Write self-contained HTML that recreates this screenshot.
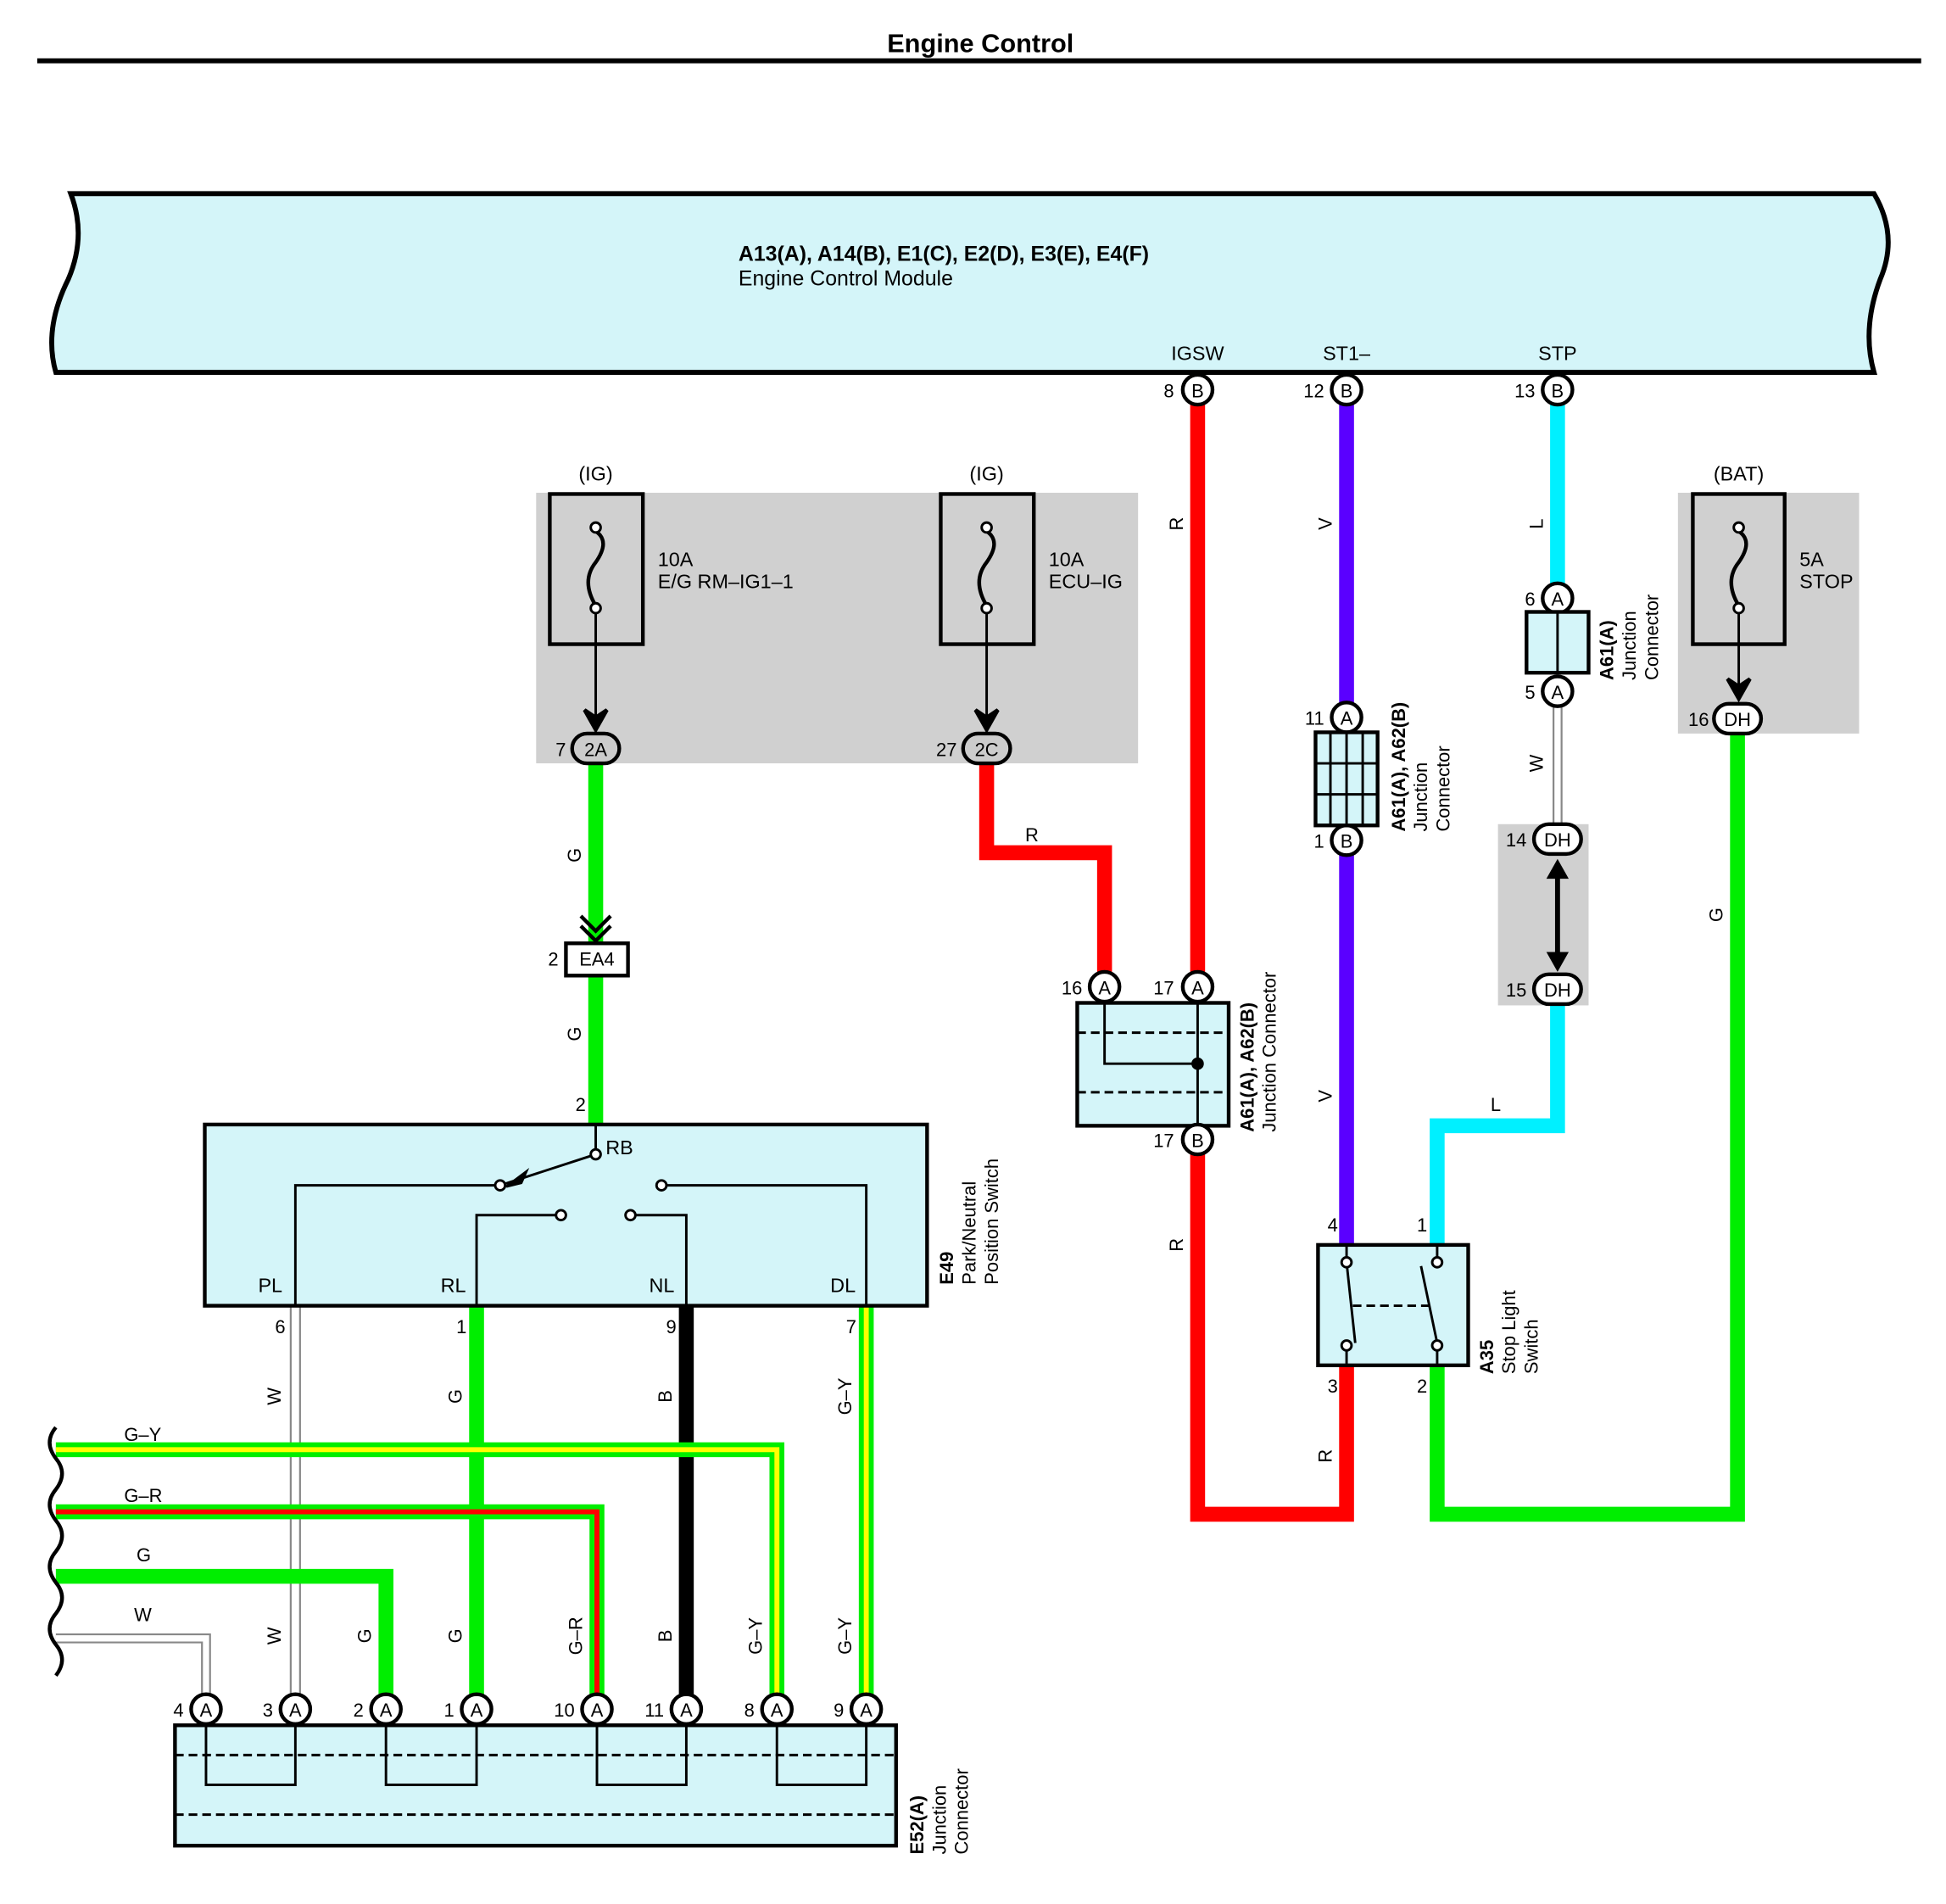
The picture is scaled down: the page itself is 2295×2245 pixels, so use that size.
<!DOCTYPE html>
<html><head><meta charset="utf-8"><style>
html,body{margin:0;padding:0;background:#fff}
svg{display:block}
text{font-family:"Liberation Sans",sans-serif;fill:#000}
</style></head><body>
<svg width="2295" height="2245" viewBox="0 0 1568 1534" preserveAspectRatio="none" xmlns="http://www.w3.org/2000/svg">
<rect width="1568" height="1534" fill="#fff"/>
<text x="790" y="42" font-size="21" font-weight="bold" text-anchor="middle">Engine Control</text>
<rect x="30" y="47" width="1518" height="4" fill="#000"/>

<path d="M57,156 L1510,156 Q1530,190 1515,225 Q1500,265 1510,300 L45,300 Q35,265 55,225 Q70,190 57,156 Z" fill="#d4f5f9" stroke="#000" stroke-width="4"/>
<text x="595" y="210" font-size="17" font-weight="bold">A13(A), A14(B), E1(C), E2(D), E3(E), E4(F)</text>
<text x="595" y="230" font-size="17">Engine Control Module</text>
<text x="965" y="290" font-size="16" text-anchor="middle">IGSW</text>
<text x="1085" y="290" font-size="16" text-anchor="middle">ST1–</text>
<text x="1255" y="290" font-size="16" text-anchor="middle">STP</text>

<rect x="432" y="397" width="485" height="218" fill="#d0d0d0"/>
<rect x="1352" y="397" width="146" height="194" fill="#d0d0d0"/>
<rect x="1207" y="664" width="73" height="146" fill="#d0d0d0"/>

<g fill="none" stroke-linejoin="miter">
<polyline points="965,314 965,1220 1085,1220 1085,1100" stroke="#ff0000" stroke-width="12"/>
<polyline points="1085,314 1085,578" stroke="#5a00ff" stroke-width="12"/>
<polyline points="1085,677 1085,1003" stroke="#5a00ff" stroke-width="12"/>
<polyline points="1255,314 1255,482" stroke="#00f0ff" stroke-width="12"/>
<polyline points="1255,797 1255,907 1158,907 1158,1003" stroke="#00f0ff" stroke-width="12"/>
<polyline points="1255,557 1255,665" stroke="#888" stroke-width="8"/>
<polyline points="1255,557 1255,665" stroke="#fff" stroke-width="5"/>
<polyline points="1400,580 1400,1220 1158,1220 1158,1100" stroke="#00ee00" stroke-width="12"/>
<polyline points="480,603 480,905" stroke="#00ee00" stroke-width="12"/>
<polyline points="795,603 795,687 890,687 890,795" stroke="#ff0000" stroke-width="12"/>
<polyline points="238,1052 238,1377" stroke="#888" stroke-width="9"/>
<polyline points="238,1052 238,1377" stroke="#fff" stroke-width="6"/>
<polyline points="384,1052 384,1377" stroke="#00ee00" stroke-width="12"/>
<polyline points="553,1052 553,1377" stroke="#000" stroke-width="12"/>
<polyline points="698,1052 698,1377" stroke="#00ee00" stroke-width="12"/>
<polyline points="698,1052 698,1377" stroke="#ffff00" stroke-width="4"/>
<polyline points="45,1168 626,1168 626,1377" stroke="#00ee00" stroke-width="12"/>
<polyline points="45,1168 626,1168 626,1377" stroke="#ffff00" stroke-width="4"/>
<polyline points="45,1218 481,1218 481,1377" stroke="#00ee00" stroke-width="12"/>
<polyline points="45,1218 481,1218 481,1377" stroke="#ff0000" stroke-width="4"/>
<polyline points="45,1270 311,1270 311,1377" stroke="#00ee00" stroke-width="12"/>
<polyline points="45,1320 166,1320 166,1377" stroke="#888" stroke-width="8"/>
<polyline points="45,1320 166,1320 166,1377" stroke="#fff" stroke-width="5"/>
<path d="M45,1150 q-10,12 0,25 q10,12 0,25 q-10,12 0,25 q10,12 0,25 q-10,12 0,25 q10,12 0,25 q-10,12 0,25 q10,12 0,25" stroke="#000" stroke-width="3"/>
</g>

<g font-size="15">
<text transform="translate(953,422) rotate(-90)" text-anchor="middle">R</text>
<text transform="translate(953,1003) rotate(-90)" text-anchor="middle">R</text>
<text transform="translate(1073,1173) rotate(-90)" text-anchor="middle">R</text>
<text transform="translate(1073,422) rotate(-90)" text-anchor="middle">V</text>
<text transform="translate(1073,883) rotate(-90)" text-anchor="middle">V</text>
<text transform="translate(1243,422) rotate(-90)" text-anchor="middle">L</text>
<text transform="translate(1243,615) rotate(-90)" text-anchor="middle">W</text>
<text transform="translate(1388,737) rotate(-90)" text-anchor="middle">G</text>
<text transform="translate(468,689) rotate(-90)" text-anchor="middle">G</text>
<text transform="translate(468,833) rotate(-90)" text-anchor="middle">G</text>
<text x="826" y="678">R</text>
<text x="1201" y="895">L</text>
<text transform="translate(226,1125) rotate(-90)" text-anchor="middle">W</text>
<text transform="translate(372,1125) rotate(-90)" text-anchor="middle">G</text>
<text transform="translate(541,1125) rotate(-90)" text-anchor="middle">B</text>
<text transform="translate(686,1125) rotate(-90)" text-anchor="middle">G–Y</text>
<text transform="translate(226,1318) rotate(-90)" text-anchor="middle">W</text>
<text transform="translate(299,1318) rotate(-90)" text-anchor="middle">G</text>
<text transform="translate(372,1318) rotate(-90)" text-anchor="middle">G</text>
<text transform="translate(469,1318) rotate(-90)" text-anchor="middle">G–R</text>
<text transform="translate(541,1318) rotate(-90)" text-anchor="middle">B</text>
<text transform="translate(614,1318) rotate(-90)" text-anchor="middle">G–Y</text>
<text transform="translate(686,1318) rotate(-90)" text-anchor="middle">G–Y</text>
<text x="100" y="1161">G–Y</text>
<text x="100" y="1210">G–R</text>
<text x="110" y="1258">G</text>
<text x="108" y="1306">W</text>
</g>

<g fill="none" stroke="#000" stroke-width="3">
<rect x="443" y="398" width="75" height="121"/>
<rect x="758" y="398" width="75" height="121"/>
<rect x="1364" y="398" width="74" height="121"/>
<path d="M480,428 q12,8 0,25 q-12,15 0,35"/>
<path d="M795,428 q12,8 0,25 q-12,15 0,35"/>
<path d="M1401,428 q12,8 0,25 q-12,15 0,35"/>
<line x1="480" y1="490" x2="480" y2="580" stroke-width="2"/>
<line x1="795" y1="490" x2="795" y2="580" stroke-width="2"/>
<line x1="1401" y1="490" x2="1401" y2="560" stroke-width="2"/>
</g>
<g fill="#fff" stroke="#000" stroke-width="2">
<circle cx="480" cy="425" r="4"/><circle cx="480" cy="490" r="4"/>
<circle cx="795" cy="425" r="4"/><circle cx="795" cy="490" r="4"/>
<circle cx="1401" cy="425" r="4"/><circle cx="1401" cy="490" r="4"/>
</g>
<path d="M471,572 L480,588 L489,572 L480,578Z M786,572 L795,588 L804,572 L795,578Z M1392,547 L1401,563 L1410,547 L1401,553Z" fill="#000" stroke="#000" stroke-width="3"/>
<g font-size="16">
<text x="480" y="387" text-anchor="middle">(IG)</text>
<text x="795" y="387" text-anchor="middle">(IG)</text>
<text x="1401" y="387" text-anchor="middle">(BAT)</text>
<text x="530" y="456">10A</text><text x="530" y="474">E/G RM–IG1–1</text>
<text x="845" y="456">10A</text><text x="845" y="474">ECU–IG</text>
<text x="1450" y="456">5A</text><text x="1450" y="474">STOP</text>
</g>

<g stroke="#000" stroke-width="3">
<rect x="461" y="591" width="38" height="24" rx="12" fill="#ccc"/>
<rect x="776" y="591" width="38" height="24" rx="12" fill="#ccc"/>
<rect x="1381" y="567" width="38" height="24" rx="12" fill="#fff"/>
<rect x="1236" y="664" width="38" height="24" rx="12" fill="#fff"/>
<rect x="1236" y="785" width="38" height="24" rx="12" fill="#fff"/>
</g>
<g font-size="15" text-anchor="middle">
<text x="480" y="609">2A</text><text x="795" y="609">2C</text>
<text x="1400" y="585">DH</text><text x="1255" y="682">DH</text><text x="1255" y="803">DH</text>
</g>
<g font-size="15" text-anchor="end">
<text x="456" y="609">7</text><text x="771" y="609">27</text><text x="1377" y="585">16</text>
<text x="1230" y="682">14</text><text x="1230" y="803">15</text>
</g>
<line x1="1255" y1="700" x2="1255" y2="775" stroke="#000" stroke-width="4"/>
<path d="M1246,708 L1255,692 L1264,708Z M1246,767 L1255,783 L1264,767Z" fill="#000"/>

<path d="M468,738 L480,750 L492,738 M468,746 L480,758 L492,746" fill="none" stroke="#000" stroke-width="3"/>
<rect x="456" y="760" width="50" height="26" fill="#fff" stroke="#000" stroke-width="3"/>
<text x="481" y="778" font-size="15" text-anchor="middle">EA4</text>
<text x="450" y="778" font-size="15" text-anchor="end">2</text>

<g fill="#fff" stroke="#000" stroke-width="3">
<circle cx="965" cy="314" r="12"/><circle cx="1085" cy="314" r="12"/><circle cx="1255" cy="314" r="12"/>
<circle cx="1255" cy="482" r="12"/><circle cx="1255" cy="557" r="12"/>
<circle cx="1085" cy="578" r="12"/><circle cx="1085" cy="677" r="12"/>
<circle cx="890" cy="795" r="12"/><circle cx="965" cy="795" r="12"/>
</g>
<g font-size="15" text-anchor="middle">
<text x="965" y="320">B</text><text x="1085" y="320">B</text><text x="1255" y="320">B</text>
<text x="1255" y="488">A</text><text x="1255" y="563">A</text>
<text x="1085" y="584">A</text><text x="1085" y="683">B</text>
<text x="890" y="801">A</text><text x="965" y="801">A</text>
</g>
<g font-size="15" text-anchor="end">
<text x="946" y="320">8</text><text x="1067" y="320">12</text><text x="1237" y="320">13</text>
<text x="1237" y="488">6</text><text x="1237" y="563">5</text>
<text x="1067" y="584">11</text><text x="1067" y="683">1</text>
<text x="872" y="801">16</text><text x="946" y="801">17</text><text x="946" y="924">17</text>
</g>

<rect x="1230" y="493" width="50" height="49" fill="#d4f5f9" stroke="#000" stroke-width="3"/>
<line x1="1255" y1="493" x2="1255" y2="542" stroke="#000" stroke-width="2"/>
<g font-size="15">
<text transform="translate(1300,548) rotate(-90)" font-weight="bold">A61(A)</text>
<text transform="translate(1318,548) rotate(-90)">Junction</text>
<text transform="translate(1336,548) rotate(-90)">Connector</text>
</g>

<rect x="1060" y="590" width="50" height="75" fill="#d4f5f9" stroke="#000" stroke-width="3"/>
<g stroke="#000" stroke-width="2">
<line x1="1072" y1="590" x2="1072" y2="665"/><line x1="1098" y1="590" x2="1098" y2="665"/>
<line x1="1060" y1="615" x2="1110" y2="615"/><line x1="1060" y1="640" x2="1110" y2="640"/>
<line x1="1085" y1="590" x2="1085" y2="665"/>
</g>
<g font-size="15">
<text transform="translate(1132,670) rotate(-90)" font-weight="bold">A61(A), A62(B)</text>
<text transform="translate(1150,670) rotate(-90)">Junction</text>
<text transform="translate(1168,670) rotate(-90)">Connector</text>
</g>

<rect x="868" y="808" width="122" height="99" fill="#d4f5f9" stroke="#000" stroke-width="3"/>
<g stroke="#000" stroke-width="2" fill="none">
<line x1="868" y1="832" x2="990" y2="832" stroke-dasharray="7,4"/>
<line x1="868" y1="880" x2="990" y2="880" stroke-dasharray="7,4"/>
<polyline points="890,807 890,857 965,857"/>
<line x1="965" y1="807" x2="965" y2="907"/>
</g>
<circle cx="965" cy="857" r="5" fill="#000"/>
<circle cx="965" cy="918" r="12" fill="#fff" stroke="#000" stroke-width="3"/>
<text x="965" y="924" font-size="15" text-anchor="middle">B</text>
<g font-size="15">
<text transform="translate(1010,912) rotate(-90)" font-weight="bold">A61(A), A62(B)</text>
<text transform="translate(1028,912) rotate(-90)">Junction Connector</text>
</g>

<rect x="165" y="906" width="582" height="146" fill="#d4f5f9" stroke="#000" stroke-width="3"/>
<g stroke="#000" stroke-width="2" fill="none">
<polyline points="238,1052 238,955 403,955"/>
<line x1="403" y1="955" x2="480" y2="930"/>
<line x1="480" y1="906" x2="480" y2="930"/>
<polyline points="384,1052 384,979 452,979"/>
<polyline points="553,1052 553,979 508,979"/>
<polyline points="698,1052 698,955 533,955"/>
</g>
<path d="M408,956 L424,944 L420,953Z" fill="#000" stroke="#000" stroke-width="2"/>
<g fill="#fff" stroke="#000" stroke-width="2">
<circle cx="480" cy="930" r="4"/><circle cx="403" cy="955" r="4"/><circle cx="452" cy="979" r="4"/>
<circle cx="508" cy="979" r="4"/><circle cx="533" cy="955" r="4"/>
</g>
<g font-size="16">
<text x="488" y="930">RB</text>
<text x="208" y="1041">PL</text><text x="355" y="1041">RL</text><text x="523" y="1041">NL</text><text x="669" y="1041">DL</text>
</g>
<g font-size="15" text-anchor="end">
<text x="472" y="895">2</text>
<text x="230" y="1074">6</text><text x="376" y="1074">1</text><text x="545" y="1074">9</text><text x="690" y="1074">7</text>
</g>
<g font-size="15">
<text transform="translate(768,1035) rotate(-90)" font-weight="bold">E49</text>
<text transform="translate(786,1035) rotate(-90)">Park/Neutral</text>
<text transform="translate(804,1035) rotate(-90)">Position Switch</text>
</g>

<rect x="1062" y="1003" width="121" height="97" fill="#d4f5f9" stroke="#000" stroke-width="3"/>
<g stroke="#000" stroke-width="2" fill="none">
<line x1="1085" y1="1003" x2="1085" y2="1017"/><line x1="1085" y1="1017" x2="1092" y2="1082"/>
<line x1="1085" y1="1084" x2="1085" y2="1100"/>
<line x1="1158" y1="1003" x2="1158" y2="1017"/><line x1="1145" y1="1020" x2="1158" y2="1082"/>
<line x1="1158" y1="1084" x2="1158" y2="1100"/>
<line x1="1090" y1="1052" x2="1152" y2="1052" stroke-dasharray="7,4"/>
</g>
<g fill="#fff" stroke="#000" stroke-width="2">
<circle cx="1085" cy="1017" r="4"/><circle cx="1085" cy="1084" r="4"/>
<circle cx="1158" cy="1017" r="4"/><circle cx="1158" cy="1084" r="4"/>
</g>
<g font-size="15" text-anchor="end">
<text x="1078" y="992">4</text><text x="1150" y="992">1</text>
<text x="1078" y="1122">3</text><text x="1150" y="1122">2</text>
</g>
<g font-size="15">
<text transform="translate(1203,1107) rotate(-90)" font-weight="bold">A35</text>
<text transform="translate(1221,1107) rotate(-90)">Stop Light</text>
<text transform="translate(1239,1107) rotate(-90)">Switch</text>
</g>

<rect x="141" y="1390" width="581" height="97" fill="#d4f5f9" stroke="#000" stroke-width="3"/>
<g stroke="#000" stroke-width="2" fill="none">
<line x1="141" y1="1414" x2="722" y2="1414" stroke-dasharray="7,4"/>
<line x1="141" y1="1462" x2="722" y2="1462" stroke-dasharray="7,4"/>
<polyline points="166,1389 166,1438 238,1438 238,1389"/>
<polyline points="311,1389 311,1438 384,1438 384,1389"/>
<polyline points="481,1389 481,1438 553,1438 553,1389"/>
<polyline points="626,1389 626,1438 698,1438 698,1389"/>
</g>
<g fill="#fff" stroke="#000" stroke-width="3">
<circle cx="166" cy="1377" r="12"/><circle cx="238" cy="1377" r="12"/><circle cx="311" cy="1377" r="12"/><circle cx="384" cy="1377" r="12"/>
<circle cx="481" cy="1377" r="12"/><circle cx="553" cy="1377" r="12"/><circle cx="626" cy="1377" r="12"/><circle cx="698" cy="1377" r="12"/>
</g>
<g font-size="15" text-anchor="middle">
<text x="166" y="1383">A</text><text x="238" y="1383">A</text><text x="311" y="1383">A</text><text x="384" y="1383">A</text>
<text x="481" y="1383">A</text><text x="553" y="1383">A</text><text x="626" y="1383">A</text><text x="698" y="1383">A</text>
</g>
<g font-size="15" text-anchor="end">
<text x="148" y="1383">4</text><text x="220" y="1383">3</text><text x="293" y="1383">2</text><text x="366" y="1383">1</text>
<text x="463" y="1383">10</text><text x="535" y="1383">11</text><text x="608" y="1383">8</text><text x="680" y="1383">9</text>
</g>
<g font-size="15">
<text transform="translate(744,1494) rotate(-90)" font-weight="bold">E52(A)</text>
<text transform="translate(762,1494) rotate(-90)">Junction</text>
<text transform="translate(780,1494) rotate(-90)">Connector</text>
</g>
</svg>
</body></html>
